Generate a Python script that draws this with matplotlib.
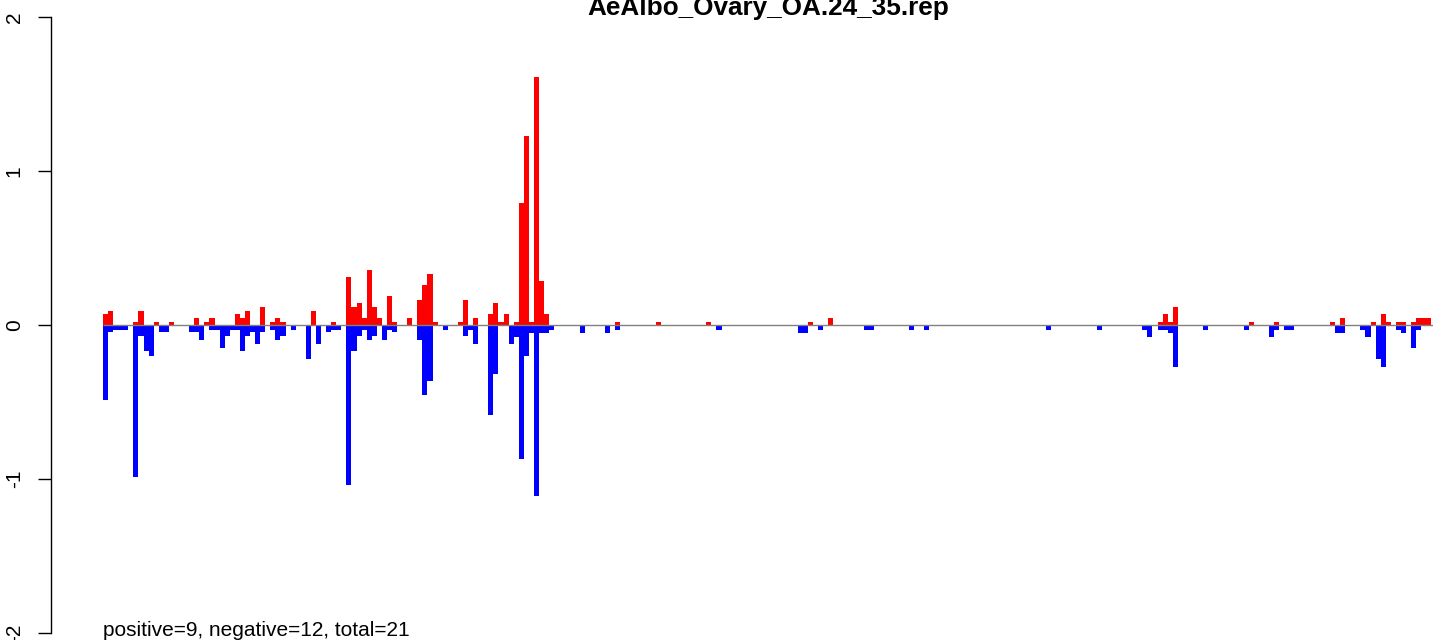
import matplotlib
matplotlib.use("Agg")
import matplotlib.pyplot as plt
import numpy as np

plt.rcParams['font.family'] = ['Liberation Sans', 'DejaVu Sans']
plt.rcParams['axes.unicode_minus'] = False

# 标题和底部统计文字
title = "AeAlbo_Ovary_OA.24_35.rep"
summary = "positive=9, negative=12, total=21"

# 正向 (红色) 位置和数值
pos_idx = [0, 1, 6, 7, 10, 13, 18, 20, 21, 26, 27, 28, 31, 33, 34, 35,
           41, 45, 48, 49, 50, 51, 52, 53, 54, 56, 57, 60, 62, 63, 64, 65,
           70, 71, 73, 76, 77, 78, 79, 81, 82, 83, 84, 85, 86, 87,
           101, 109, 119, 139, 143,
           208, 209, 210, 211, 226, 231, 242, 244, 250, 252, 253, 255, 256,
           258, 259, 260, 261]
pos_val = [0.074, 0.093, 0.022, 0.093, 0.022, 0.022, 0.048, 0.022, 0.048,
           0.074, 0.048, 0.093, 0.119, 0.022, 0.048, 0.022,
           0.093, 0.022, 0.314, 0.119, 0.145, 0.048, 0.359, 0.119, 0.048,
           0.19, 0.022, 0.048, 0.165, 0.262, 0.333, 0.022,
           0.022, 0.165, 0.045, 0.071, 0.143, 0.02, 0.071, 0.02, 0.792,
           1.227, 0.02, 1.61, 0.286, 0.071,
           0.02, 0.02, 0.02, 0.02, 0.045,
           0.02, 0.071, 0.02, 0.117, 0.02, 0.02, 0.02, 0.045, 0.02, 0.071,
           0.02, 0.02, 0.02, 0.02, 0.045, 0.045, 0.045]

# 负向 (蓝色) 位置和数值
neg_idx = [0, 1, 2, 3, 4, 6, 7, 8, 9, 11, 12, 17, 18, 19, 21, 22, 23, 24,
           25, 26, 27, 28, 29, 30, 31, 33, 34, 35, 37, 40, 42, 44, 45, 46,
           48, 49, 50, 51, 52, 53, 55, 56, 57, 62, 63, 64, 67, 71, 72, 73,
           76, 77, 80, 81, 82, 83, 84, 85, 86, 87, 88,
           94, 99, 101, 121, 137, 138, 141, 150, 151, 159, 162, 186, 196,
           205, 206, 208, 209, 210, 211, 217, 225, 230, 231, 233, 234,
           243, 244, 248, 249, 251, 252, 255, 256, 258, 259]
neg_val = [-0.485, -0.048, -0.03, -0.03, -0.03, -0.99, -0.074, -0.171,
           -0.199, -0.048, -0.048, -0.048, -0.048, -0.1, -0.03, -0.03,
           -0.147, -0.074, -0.03, -0.03, -0.171, -0.074, -0.048, -0.121,
           -0.048, -0.03, -0.1, -0.074, -0.03, -0.219, -0.121, -0.048,
           -0.03, -0.03,
           -1.037, -0.171, -0.074, -0.03, -0.1, -0.074, -0.1, -0.03, -0.048,
           -0.1, -0.457, -0.363, -0.03, -0.074, -0.03, -0.121,
           -0.584, -0.316, -0.121, -0.076, -0.868, -0.2, -0.05, -1.108,
           -0.05, -0.05, -0.03,
           -0.052, -0.052, -0.032, -0.032, -0.052, -0.052, -0.032, -0.032,
           -0.032, -0.032, -0.032, -0.032, -0.032,
           -0.032, -0.078, -0.032, -0.032, -0.052, -0.273, -0.032, -0.032,
           -0.078, -0.032, -0.032, -0.032,
           -0.052, -0.052, -0.032, -0.078, -0.221, -0.273, -0.032, -0.052,
           -0.149, -0.032]

yticks = [-2, -1, 0, 1, 2]

fig = plt.figure(figsize=(14.33, 6.4), dpi=100)
W, H = 1433.0, 640.0

# 绘图区域 (按像素换算), 右侧超出画布
left_px, right_px = 50.7, 1486.3
top_px, bottom_px = 17.0, 633.0
ax = fig.add_axes([left_px / W, (H - bottom_px) / H,
                   (right_px - left_px) / W, (bottom_px - top_px) / H])

bar_px = 5.07
first_px = 103.0
x0 = -(first_px - left_px) / bar_px
ax.set_xlim(x0, x0 + (right_px - left_px) / bar_px)
ax.set_ylim(-2, 2)

# 红色正向柱, 蓝色负向柱
ax.bar(pos_idx, pos_val, width=1, align='edge', color='#ff0000', linewidth=0)
ax.bar(neg_idx, neg_val, width=1, align='edge', color='#0000ff', linewidth=0)

# 零线
ax.hlines(0, 0, ax.get_xlim()[1], color='#808080', linewidth=1.0, zorder=3)

for s in ['top', 'right', 'bottom']:
    ax.spines[s].set_visible(False)
ax.spines['left'].set_linewidth(1.0)
ax.set_xticks([])
ax.set_yticks(yticks)
ax.set_yticklabels([str(t) for t in yticks])
ax.tick_params(axis='y', length=9.4, width=1.0, pad=10, labelsize=15,
               labelrotation=90)
for lab in ax.get_yticklabels():
    lab.set_verticalalignment('center')

# 底部文字
ax.text(0, -2.02, summary, fontsize=15, ha='left', va='baseline', clip_on=False)

# 标题 (原图顶部被裁掉一部分)
fig.text(768.5 / W, 1 - 15.0 / H, title, fontsize=18.8, fontweight='bold',
         ha='center', va='baseline')

fig.savefig('out.png', dpi=100)
